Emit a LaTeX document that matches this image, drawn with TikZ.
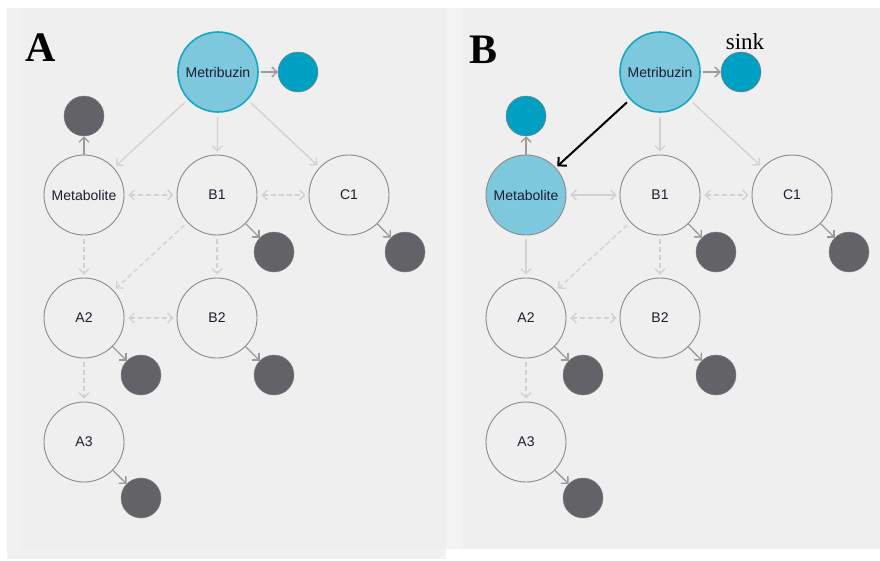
\documentclass[tikz,border=0pt]{standalone}
\usepackage{fontspec}
\setmainfont{Liberation Serif}
\newfontfamily\labfont{Liberation Sans}
\usetikzlibrary{arrows.meta}
\definecolor{bgA}{HTML}{F1F1F1}
\definecolor{bgB}{HTML}{EFEFEF}
\definecolor{bgS}{HTML}{F3F3F3}
\definecolor{metfill}{HTML}{7EC8DE}
\definecolor{metdraw}{HTML}{18A4C4}
\definecolor{tealsink}{HTML}{00A0C2}
\definecolor{darksink}{HTML}{626267}
\definecolor{edgel}{HTML}{D2D2D2}
\definecolor{edged}{HTML}{9A9A9A}
\definecolor{circ}{HTML}{8A8A8A}
\definecolor{txt}{HTML}{1C1C30}
\tikzset{
  >={Straight Barb[length=5pt,width=10pt]},
  bignode/.style={circle, minimum size=80pt, inner sep=0pt, draw=circ, line width=0.9pt,
    fill=bgB, text=txt, font=\labfont\fontsize{14}{16}\selectfont},
  metnode/.style={bignode, fill=metfill, draw=metdraw, line width=1.6pt},
  metabnode/.style={bignode, fill=metfill},
  darkss/.style={circle, minimum size=40pt, inner sep=0pt, fill=darksink, draw=darksink!80!white, line width=0.5pt},
  tealss/.style={darkss, fill=tealsink, draw=gray},
  lite/.style={draw=edgel, line width=1.3pt, ->, shorten >=3pt, shorten <=4pt},
  lited/.style={lite, dash pattern=on 5pt off 3pt},
  litedd/.style={lited, <->},
  litebi/.style={lite, <->},
  dk/.style={draw=edged, line width=1.3pt, ->},
  blk/.style={draw=black, line width=2pt, -{Straight Barb[length=6pt,width=12pt]}, shorten >=2pt, shorten <=4pt},
  panellab/.style={inner sep=0pt, font=\fontsize{42}{42}\selectfont\bfseries},
}
\begin{document}
\begin{tikzpicture}[x=1pt,y=-1pt]
\useasboundingbox (0,0) rectangle (880,560);
\fill[white] (0,0) rectangle (880,560);
\fill[bgA] (7,8) rectangle (446,559);
\fill[bgB] (21,8) rectangle (446,549);
\fill[bgS] (446,8) rectangle (463,549);
\fill[bgB] (463,8) rectangle (880,549);

% ---------- Panel A ----------
\node[panellab] (aL) at (41,48) {A};
\node[metnode] (aM) at (218,72) {Metribuzin};
\node[tealss] (aMs) at (298,72) {};
\node[bignode] (aMe) at (84,195) {Metabolite};
\node[darkss] (aMes) at (84,116) {};
\node[bignode] (aB1) at (217,195) {B1};
\node[darkss] (aB1s) at (274,252) {};
\node[bignode] (aC1) at (349,195) {C1};
\node[darkss] (aC1s) at (405,252) {};
\node[bignode] (aA2) at (84,318) {A2};
\node[darkss] (aA2s) at (141,375) {};
\node[bignode] (aB2) at (217,318) {B2};
\node[darkss] (aB2s) at (274,375) {};
\node[bignode] (aA3) at (84,442) {A3};
\node[darkss] (aA3s) at (141,498) {};

\draw[dk, shorten <=2pt] (aM) -- (aMs);
\draw[lite] (aM) -- (aMe);
\draw[lite] (aM) -- (aB1);
\draw[lite] (aM) -- (aC1);
\draw[dk] (aMe) -- (aMes);
\draw[litedd] (aMe) -- (aB1);
\draw[litedd] (aB1) -- (aC1);
\draw[dk] (aB1) -- (aB1s);
\draw[dk] (aC1) -- (aC1s);
\draw[lited] (aMe) -- (aA2);
\draw[lited] (aB1) -- (aA2);
\draw[lited] (aB1) -- (aB2);
\draw[litedd] (aA2) -- (aB2);
\draw[dk] (aA2) -- (aA2s);
\draw[dk] (aB2) -- (aB2s);
\draw[lited] (aA2) -- (aA3);
\draw[dk] (aA3) -- (aA3s);

% ---------- Panel B ----------
\node[panellab] (bL) at (483,50) {B};
\node[inner sep=0pt, font=\fontsize{23}{23}\selectfont] (bSink) at (745,42) {sink};
\node[metnode] (bM) at (660,72) {Metribuzin};
\node[tealss] (bMs) at (741,72) {};
\node[metabnode] (bMe) at (526,195) {Metabolite};
\node[tealss] (bMes) at (526,116) {};
\node[bignode] (bB1) at (660,195) {B1};
\node[darkss] (bB1s) at (716,252) {};
\node[bignode] (bC1) at (792,195) {C1};
\node[darkss] (bC1s) at (849,252) {};
\node[bignode] (bA2) at (526,318) {A2};
\node[darkss] (bA2s) at (583,375) {};
\node[bignode] (bB2) at (660,318) {B2};
\node[darkss] (bB2s) at (716,375) {};
\node[bignode] (bA3) at (526,442) {A3};
\node[darkss] (bA3s) at (583,498) {};

\draw[dk, shorten <=2pt] (bM) -- (bMs);
\draw[blk] (bM) -- (bMe);
\draw[lite] (bM) -- (bB1);
\draw[lite] (bM) -- (bC1);
\draw[dk] (bMe) -- (bMes);
\draw[litebi] (bMe) -- (bB1);
\draw[litedd] (bB1) -- (bC1);
\draw[dk] (bB1) -- (bB1s);
\draw[dk] (bC1) -- (bC1s);
\draw[lite] (bMe) -- (bA2);
\draw[lited] (bB1) -- (bA2);
\draw[lited] (bB1) -- (bB2);
\draw[litedd] (bA2) -- (bB2);
\draw[dk] (bA2) -- (bA2s);
\draw[dk] (bB2) -- (bB2s);
\draw[lited] (bA2) -- (bA3);
\draw[dk] (bA3) -- (bA3s);
\end{tikzpicture}
\end{document}
